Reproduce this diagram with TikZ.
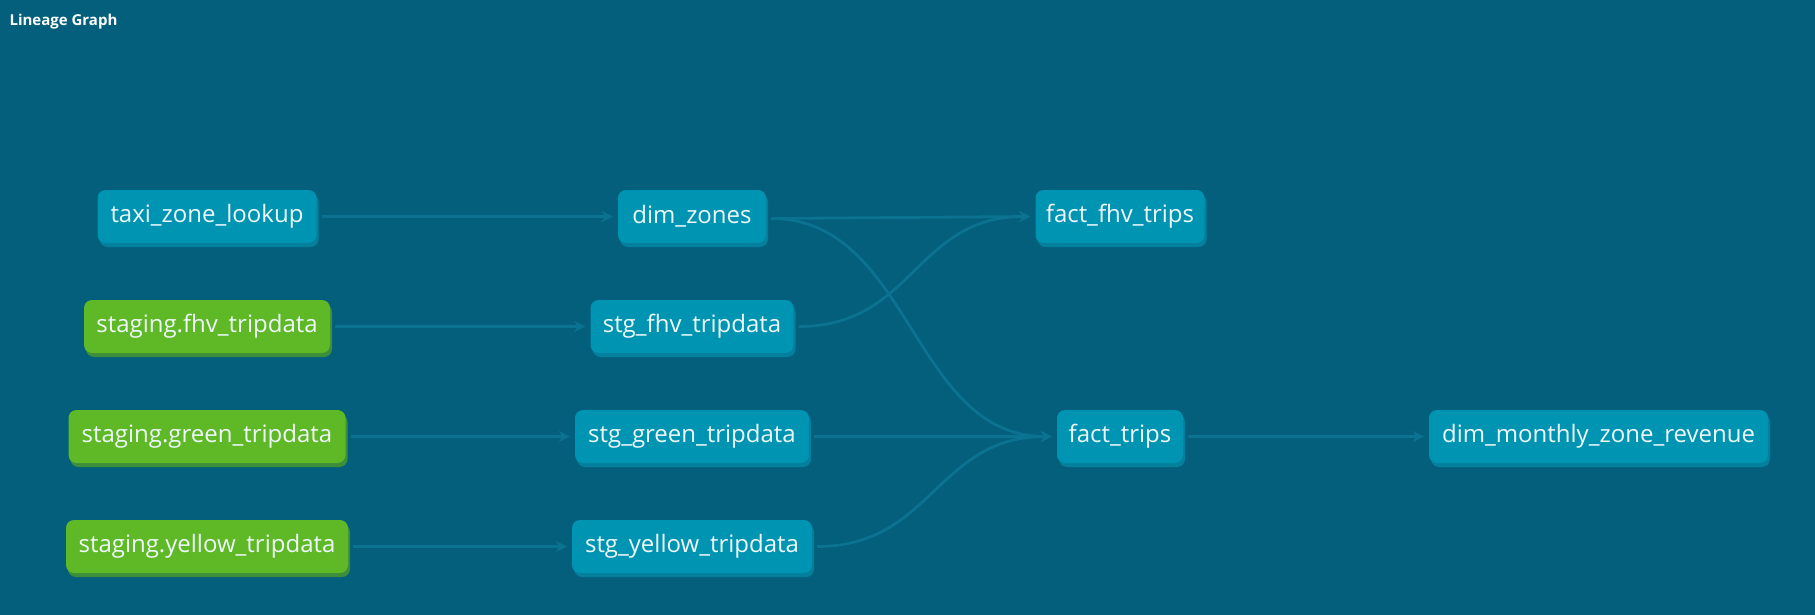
\documentclass[tikz,border=0pt]{standalone}
\usepackage{fontspec}
\setmainfont{Open Sans}
\usetikzlibrary{arrows.meta,shadows}
\definecolor{bg}{HTML}{035F7C}
\definecolor{modelfill}{HTML}{0094B3}
\definecolor{modelshadow}{HTML}{047F9C}
\definecolor{srcfill}{HTML}{5FB825}
\definecolor{srcshadow}{HTML}{3D8E3B}
\definecolor{edgecol}{HTML}{0C7291}
\definecolor{txt}{HTML}{EEF8FA}
\tikzset{
  x=1pt,y=-1pt,
  base/.style={rounded corners=8pt, minimum height=53pt, inner sep=0pt, text=txt,
    font=\fontsize{24}{28}\selectfont},
  model/.style={base, fill=modelfill,
    drop shadow={shadow xshift=2pt, shadow yshift=-4pt, fill=modelshadow, opacity=1}},
  src/.style={base, fill=srcfill,
    drop shadow={shadow xshift=2pt, shadow yshift=-4pt, fill=srcshadow, opacity=1}},
  edge/.style={draw=edgecol, line width=2.8pt,
    -{Stealth[length=11pt,width=11pt,inset=3.5pt]}},
}
\begin{document}
\begin{tikzpicture}
\fill[bg] (0,0) rectangle (1815,615);
\useasboundingbox (0,0) rectangle (1815,615);
\node[anchor=base west, text=white, font=\fontsize{15}{18}\selectfont\bfseries] (title) at (6,26) {Lineage Graph};

\node[src, minimum width=246pt] (sfhv) at (207,326.5) {staging.fhv\_tripdata};
\node[src, minimum width=277pt] (sgreen) at (207,436.5) {staging.green\_tripdata};
\node[src, minimum width=282pt] (syellow) at (207,546.5) {staging.yellow\_tripdata};
\node[model, minimum width=219pt] (taxi) at (207,216.5) {taxi\_zone\_lookup};

\node[model, minimum width=148pt] (dz) at (692,216.5) {dim\_zones};
\node[model, minimum width=203pt] (stfhv) at (692,326.5) {stg\_fhv\_tripdata};
\node[model, minimum width=234pt] (stgreen) at (692,436.5) {stg\_green\_tripdata};
\node[model, minimum width=240pt] (styellow) at (692,546.5) {stg\_yellow\_tripdata};

\node[model, minimum width=169pt] (ffhv) at (1120,216.5) {fact\_fhv\_trips};
\node[model, minimum width=126pt] (ft) at (1120,436.5) {fact\_trips};
\node[model, minimum width=339pt] (dmzr) at (1598.5,436.5) {dim\_monthly\_zone\_revenue};

\draw[edge] ([xshift=5pt]taxi.east) -- ([xshift=-5pt]dz.west);
\draw[edge] ([xshift=5pt]sfhv.east) -- ([xshift=-5pt]stfhv.west);
\draw[edge] ([xshift=5pt]sgreen.east) -- ([xshift=-5pt]stgreen.west);
\draw[edge] ([xshift=5pt]syellow.east) -- ([xshift=-5pt]styellow.west);

\draw[edge] ([xshift=5pt,yshift=-2pt]dz.east) -- ([xshift=-5pt]ffhv.west);
\draw[edge] ([xshift=5pt,yshift=-2pt]dz.east) .. controls +(140,0) and +(-140,0) .. ([xshift=-5pt]ft.west);
\draw[edge] ([xshift=5pt]stfhv.east) .. controls +(115,0) and +(-115,0) .. ([xshift=-5pt]ffhv.west);
\draw[edge] ([xshift=5pt]stgreen.east) -- ([xshift=-5pt]ft.west);
\draw[edge] ([xshift=5pt]styellow.east) .. controls +(115,0) and +(-115,0) .. ([xshift=-5pt]ft.west);
\draw[edge] ([xshift=5pt]ft.east) -- ([xshift=-5pt]dmzr.west);
\end{tikzpicture}
\end{document}
